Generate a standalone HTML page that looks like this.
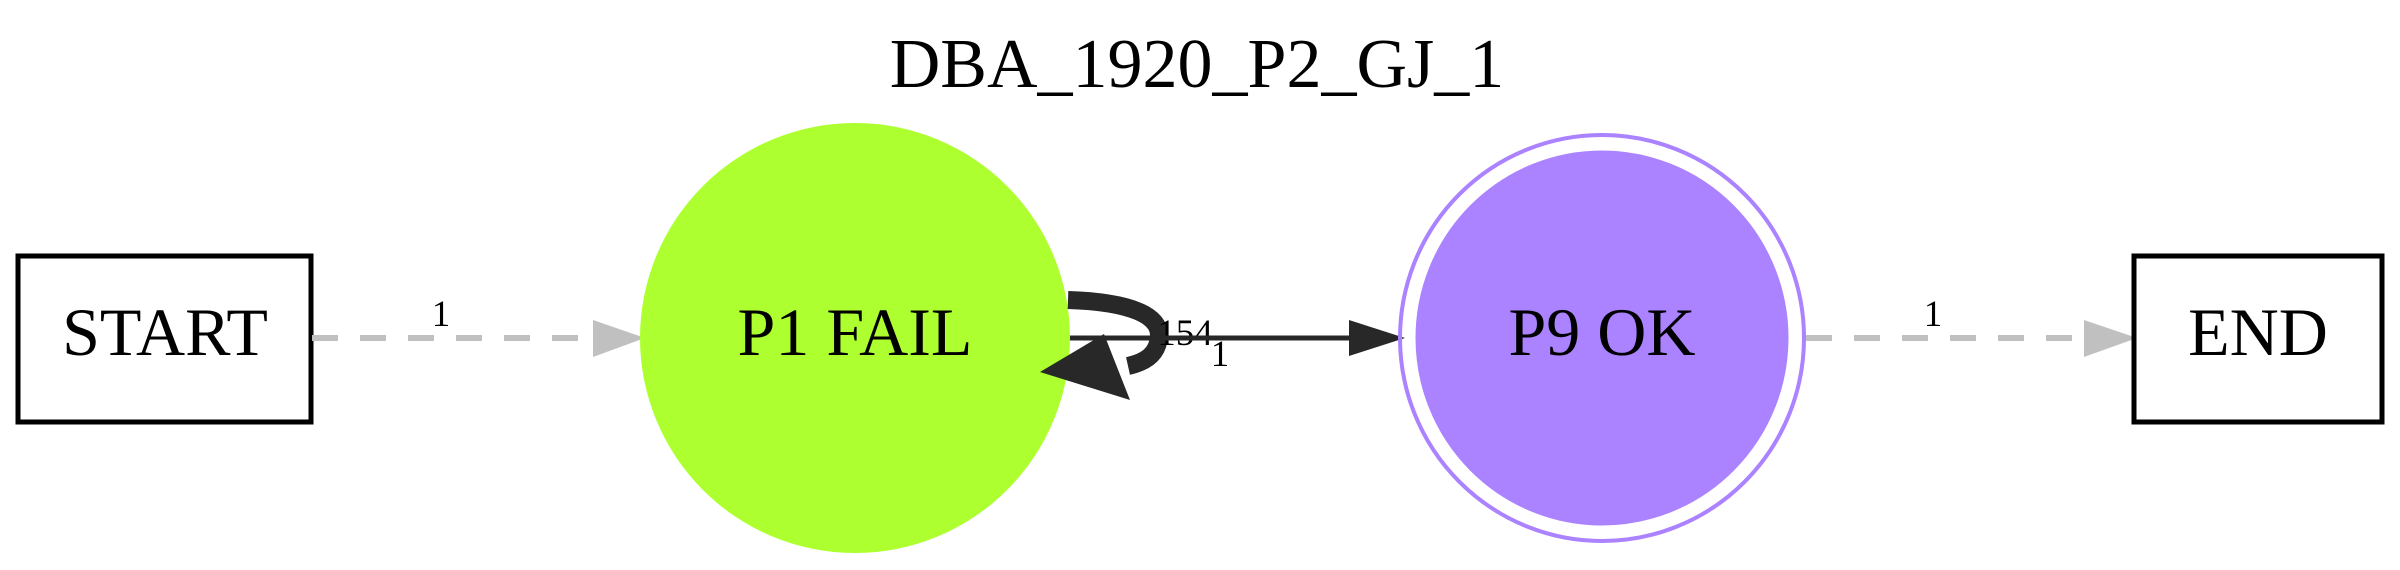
<!DOCTYPE html>
<html><head><meta charset="utf-8"><style>
html,body{margin:0;padding:0;background:#fff;}
svg{display:block;}
text{font-family:"Liberation Serif",serif;}
</style></head><body>
<svg width="2400" height="570" viewBox="0 0 2400 570" xmlns="http://www.w3.org/2000/svg">
<rect width="2400" height="570" fill="#fff"/>
<text x="1197" y="87" font-size="70" text-anchor="middle">DBA_1920_P2_GJ_1</text>
<rect x="18" y="256" width="293" height="166" fill="#fff" stroke="#000" stroke-width="5"/>
<text x="165" y="355" font-size="68" text-anchor="middle">START</text>
<line x1="312" y1="338" x2="594" y2="338" stroke="#c0c0c0" stroke-width="6" stroke-dasharray="26,22"/>
<polygon points="593,320 645,338 593,357" fill="#c0c0c0"/>
<text x="441" y="326" font-size="37" text-anchor="middle">1</text>
<ellipse cx="855" cy="338" rx="215" ry="215" fill="#adff2f"/>
<text x="855" y="355" font-size="68" text-anchor="middle">P1 FAIL</text>
<path d="M1068,300 C1132,302 1160,316 1159,336 C1158,354 1146,362 1128,366" fill="none" stroke="#282828" stroke-width="18"/>
<polygon points="1040,372 1104,334 1130,400" fill="#282828"/>
<text x="1185" y="345" font-size="37" text-anchor="middle">154</text>
<text x="1220" y="366" font-size="37" text-anchor="middle">1</text>
<line x1="1070" y1="338" x2="1352" y2="338" stroke="#282828" stroke-width="5"/>
<polygon points="1349,320 1405,338 1349,356" fill="#282828"/>
<ellipse cx="1602" cy="338" rx="202" ry="203" fill="none" stroke="#ab82ff" stroke-width="4"/>
<ellipse cx="1602" cy="338" rx="185" ry="186" fill="#ab82ff" stroke="#ab82ff" stroke-width="3"/>
<text x="1602" y="355" font-size="68" text-anchor="middle">P9 OK</text>
<line x1="1806" y1="338" x2="2086" y2="338" stroke="#c0c0c0" stroke-width="6" stroke-dasharray="26,22"/>
<polygon points="2084,320 2137,338 2084,357" fill="#c0c0c0"/>
<text x="1933" y="326" font-size="37" text-anchor="middle">1</text>
<rect x="2134" y="256" width="248" height="166" fill="#fff" stroke="#000" stroke-width="5"/>
<text x="2258" y="355" font-size="68" text-anchor="middle">END</text>
</svg>
</body></html>
